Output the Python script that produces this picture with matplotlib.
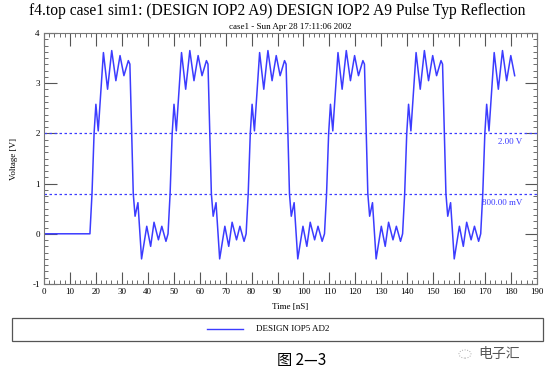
import matplotlib
matplotlib.use("Agg")
import matplotlib.pyplot as plt
from matplotlib.patches import Rectangle, Circle
from matplotlib.ticker import MultipleLocator

plt.rcParams['font.family'] = ['Liberation Serif', 'Noto Sans CJK SC', 'DejaVu Sans']
plt.rcParams['axes.unicode_minus'] = False

# one high/low cycle, times relative to start of rising edge (ns)
cycle_t = [0.0, 0.8, 1.6, 2.3, 3.2, 5.2, 6.8, 8.4, 10.0, 11.6, 13.1, 14.8, 15.4,
           16.1, 16.7, 17.4, 18.5, 19.9, 21.9, 23.4, 24.7, 26.4, 27.7, 29.3]
cycle_v = [0.0, 0.8, 2.0, 2.58, 2.05, 3.61, 2.88, 3.65, 3.05, 3.55, 3.15, 3.45, 3.38,
           2.0, 0.8, 0.35, 0.62, -0.5, 0.15, -0.25, 0.23, -0.12, 0.15, -0.15]
# rising edge start of each pulse (ns), and end of the simulation
cycle_start = [17.7, 47.8, 77.9, 108.1, 138.2, 168.3]
t_end = 181.5

thresholds = [2.0, 0.8]
threshold_labels = ['2.00 V', '800.00 mV']

time = [0.0]
volt = [0.0]
for t0 in cycle_start:
    for dt, v in zip(cycle_t, cycle_v):
        if t0 + dt <= t_end:
            time.append(t0 + dt)
            volt.append(v)

blue = '#3c3cff'
fig = plt.figure(figsize=(5.54, 3.80), dpi=100)
ax = fig.add_axes([44 / 554, 1 - 284 / 380, 493 / 554, 251 / 380])

ax.plot(time, volt, color=blue, lw=1.1, solid_joinstyle='round')
for y, lab in zip(thresholds, threshold_labels):
    ax.axhline(y, color=blue, lw=0.9, ls=(0, (2, 2)))
    ax.text(184.5, y - 0.1, lab, color=blue, fontsize=6.5, ha='right', va='top')

ax.set_xlim(0, 190)
ax.set_ylim(-1, 4)
ax.xaxis.set_major_locator(MultipleLocator(10))
ax.xaxis.set_minor_locator(MultipleLocator(2))
ax.yaxis.set_major_locator(MultipleLocator(1))
ax.yaxis.set_minor_locator(MultipleLocator(0.125))
ax.tick_params(which='both', direction='in', top=True, right=True,
               colors='#555555', labelcolor='black', labelsize=6.5, pad=3)
ax.tick_params(which='major', length=9, width=0.8)
ax.tick_params(which='minor', length=3, width=0.6)
for s in ax.spines.values():
    s.set_color('#777777')
    s.set_linewidth(0.8)

ax.set_xlabel('Time [nS]', fontsize=6.5, labelpad=5)
ax.set_ylabel('Voltage [V]', fontsize=6.5, labelpad=10)
ax.set_title('case1 - Sun Apr 28 17:11:06 2002', fontsize=6.5, pad=3)
fig.text(0.5, 1 - 11 / 380, 'f4.top case1 sim1: (DESIGN IOP2 A9) DESIGN IOP2 A9 Pulse Typ Reflection',
         ha='center', va='center', fontsize=11.2)

# legend box
fig.patches.append(Rectangle((12 / 554, 1 - 341 / 380), 531 / 554, 23 / 380,
                             transform=fig.transFigure, fill=False,
                             edgecolor='#555555', lw=0.9))
fig.add_artist(plt.Line2D([207 / 554, 243 / 554], [1 - 329 / 380] * 2,
                          transform=fig.transFigure, color=blue, lw=1.0))
fig.text(256 / 554, 1 - 329 / 380, 'DESIGN IOP5 AD2', fontsize=6.5, va='center')

fig.text(302 / 554, 1 - 361 / 380, '图 2—3', ha='center', va='center', fontsize=11,
         family=['Noto Sans CJK SC', 'DejaVu Sans'])
fig.text(478 / 554, 1 - 354 / 380, '电子汇', ha='left', va='center', fontsize=10,
         color='#555555', family=['Noto Sans CJK SC', 'DejaVu Sans'])
fig.patches.append(Circle((465 / 554, 1 - 354 / 380), 6 / 554, transform=fig.transFigure,
                          fill=False, edgecolor='#aaaaaa', lw=0.7, ls=':'))

fig.savefig('out.png', dpi=100)
